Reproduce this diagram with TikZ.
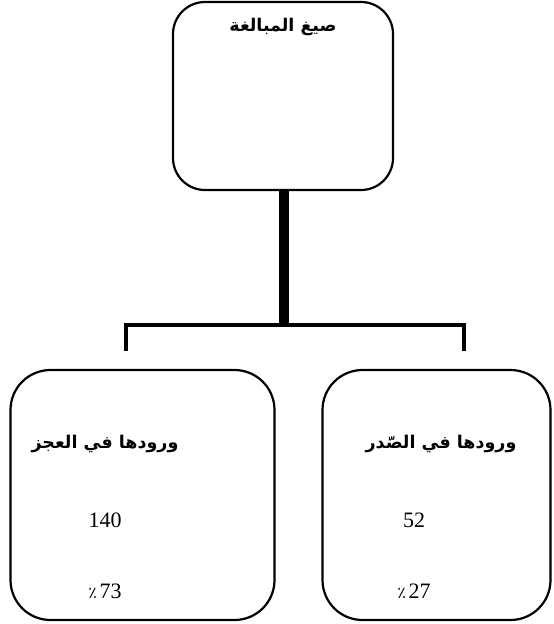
\documentclass[tikz,border=0pt]{standalone}
\usepackage{fontspec}
\setmainfont{Liberation Serif}
\newfontfamily\arabicfont[Script=Arabic]{DejaVu Sans}
\TeXXeTstate=1
\tikzset{
  box/.style={draw, line width=2.2pt, rounded corners=32pt, inner sep=0pt},
  arlabel/.style={font=\arabicfont\bfseries\fontsize{17.5}{20}\selectfont, inner sep=0pt},
  numlabel/.style={font=\fontsize{22}{26}\selectfont, inner sep=0pt},
  trunk/.style={line width=10pt},
  branch/.style={line width=4.5pt}
}
\begin{document}
\begin{tikzpicture}[x=1pt,y=1pt]
\useasboundingbox (0,0) rectangle (554,-624);
\node[box, minimum width=220pt, minimum height=188pt] (top) at (283,-96) {};
\node[box, rounded corners=40pt, minimum width=264pt, minimum height=250pt] (left) at (142.5,-495) {};
\node[box, rounded corners=40pt, minimum width=228pt, minimum height=250pt] (right) at (436.5,-495) {};
\node[arlabel] (ttop) at (283,-27) {\beginR صيغ المبالغة\endR};
\node[arlabel] (tleft) at (105,-444) {\beginR ورودها في العجز\endR};
\node[arlabel] (tright) at (441,-444) {\beginR ورودها في الصّدر\endR};
\node[numlabel] (nleft) at (105,-520) {140};
\node[numlabel] (nright) at (414,-520) {52};
\node[numlabel] (pleft) at (105,-591) {\arabicfont\fontsize{16}{18}\selectfont ٪\,\rmfamily\fontsize{22}{26}\selectfont 73};
\node[numlabel] (pright) at (414,-591) {\arabicfont\fontsize{16}{18}\selectfont ٪\,\rmfamily\fontsize{22}{26}\selectfont 27};
\coordinate (junc) at (284,-325);
\coordinate (lj) at (126,-325);
\coordinate (rj) at (464,-325);
\coordinate (lend) at (126,-351);
\coordinate (rend) at (464,-351);
\draw[trunk] (top.south -| junc) -- ([yshift=-2pt]junc);
\draw[branch] (lend) -- (lj) -- (rj) -- (rend);
\end{tikzpicture}
\end{document}
